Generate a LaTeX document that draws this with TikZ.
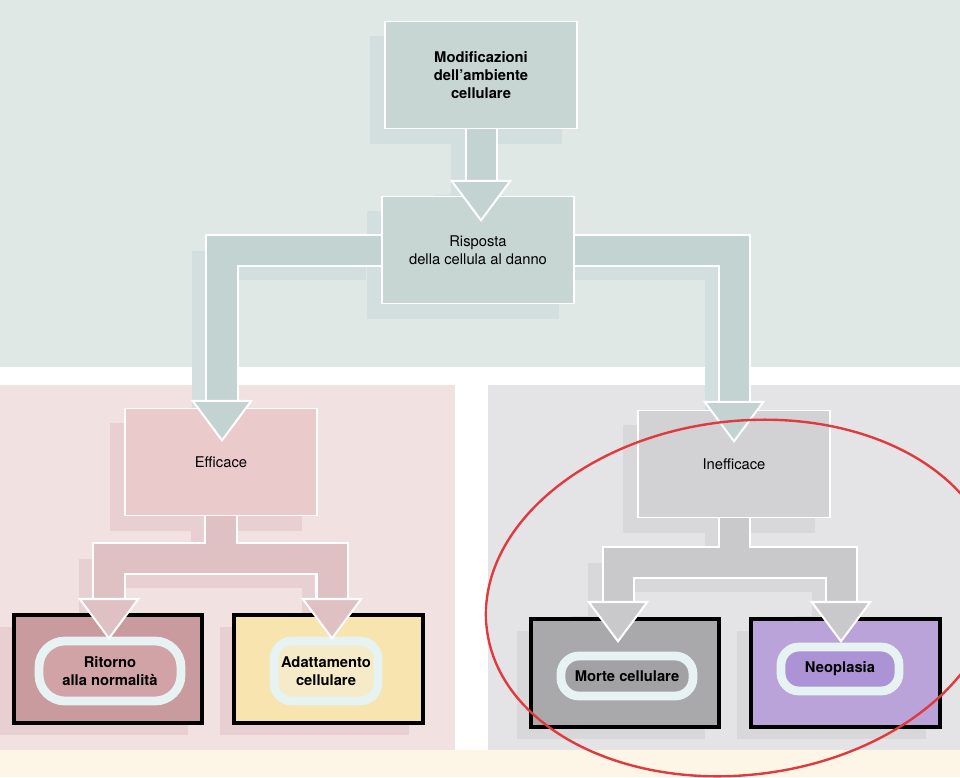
\documentclass[tikz,border=0pt]{standalone}
\usepackage{fontspec}
\setmainfont{TeX Gyre Heros}
\usepackage{tikz}
\usetikzlibrary{positioning,arrows.meta,shadows,backgrounds}
\definecolor{topbg}{HTML}{E0E8E5}
\definecolor{tealBox}{HTML}{C8D6D3}
\definecolor{tealA}{HTML}{C2D3D2}
\definecolor{tealShadow}{HTML}{D3DEDF}
\definecolor{pinkbg}{HTML}{F2E1E1}
\definecolor{pinkBox}{HTML}{EBCACC}
\definecolor{pinkA}{HTML}{DFC0C3}
\definecolor{pinkShadow}{HTML}{E8D0D2}
\definecolor{greybg}{HTML}{E4E4E6}
\definecolor{greyBox}{HTML}{D2D2D4}
\definecolor{greyA}{HTML}{C9C9CB}
\definecolor{greyShadow}{HTML}{D8D8DA}
\definecolor{ritC}{HTML}{C99A9E}
\definecolor{ritIn}{HTML}{D1A3A6}
\definecolor{adaC}{HTML}{F7E4AE}
\definecolor{adaIn}{HTML}{F5EBC8}
\definecolor{morC}{HTML}{A9A9AB}
\definecolor{morIn}{HTML}{A2A2A4}
\definecolor{neoC}{HTML}{B9A3D9}
\definecolor{neoIn}{HTML}{AC93D6}
\definecolor{ringc}{HTML}{E6F3F2}
\definecolor{cream}{HTML}{FDF6E7}
\definecolor{redline}{HTML}{E0393E}

\begin{document}
\begin{tikzpicture}[x=0.025cm, y=-0.025cm,
  box/.style 2 args={draw=white, line width=0.04cm, fill=#1, minimum width=4.8cm, minimum height=2.68cm, align=center, font=\fontsize{10.5}{12.8}\selectfont, drop shadow={shadow xshift=-0.375cm, shadow yshift=-0.375cm, fill=#2, draw=none, opacity=1}},
  leaf/.style 2 args={draw=black, line width=0.1cm, fill=#1, minimum width=4.72cm, minimum height=2.7cm, drop shadow={shadow xshift=-0.35cm, shadow yshift=-0.3cm, fill=#2, draw=none, opacity=1}},
  glow/.style={draw=ringc, line width=0.22cm, rounded corners=0.45cm, fill=#1, align=center, inner sep=0pt, font=\fontsize{10.5}{12.8}\selectfont\bfseries},
  fat/.style={line width=0.725cm, draw=#1, line join=miter},
  drop/.style={fat=#1, transform canvas={shift={(-0.375cm,-0.375cm)}}},
  rim/.style={preaction={draw=white, line width=0.825cm, arrows=-, #1}},
  arrowhead/.style 2 args={arrows={-Triangle[width=1.55cm, length=1.05cm, line width=0.05cm, color=#1, fill=#2]}},
  arrowheads/.style 2 args={arrows={Triangle[width=1.55cm, length=1.05cm, line width=0.05cm, color=#1, fill=#2]-Triangle[width=1.55cm, length=1.05cm, line width=0.05cm, color=#1, fill=#2]}}]
    \useasboundingbox (0,0) rectangle (960,777);
    \clip (0,0) rectangle (960,777);
    \begin{scope}[on background layer]
    \fill[white] (0,0) rectangle (960,777);
    \fill[topbg] (0,0) rectangle (960,367);
    \fill[pinkbg] (0,385) rectangle (455,750);
    \fill[greybg] (488,385) rectangle (960,750);
    \fill[cream] (0,750) rectangle (960,777);
    \end{scope}

    \node[box={tealBox}{tealShadow}, font=\fontsize{10.5}{12.8}\selectfont\bfseries] (mod) at (481,75) {Modificazioni\\dell’ambiente\\cellulare};
    \node[box={tealBox}{tealShadow}] (risp) at (478,250) {Risposta\\della cellula al danno};
    \node[box={pinkBox}{pinkShadow}] (eff) at (221,462) {Efficace};
    \node[box={greyBox}{greyShadow}] (inef) at (734,464) {Inefficace};

    \node[leaf={ritC}{pinkShadow}] (rit) at (108,669) {};
    \node[leaf={adaC}{pinkShadow}, right=0.7cm of rit] (ada) {};
    \node[leaf={morC}{greyShadow}] (mor) at (625,673) {};
    \node[leaf={neoC}{greyShadow}, right=0.7cm of mor] (neo) {};

    \node[glow=ritIn, minimum width=3.55cm, minimum height=1.5cm, rounded corners=0.65cm] (ritL) at (110,671) {Ritorno\\alla normalità};
    \node[glow=adaIn, minimum width=2.6cm, minimum height=1.5cm] (adaL) at (326,671) {Adattamento\\cellulare};
    \node[glow=morIn, minimum width=3.3cm, minimum height=1.0cm] (morL) at (627,676) {Morte cellulare};
    \node[glow=neoIn, minimum width=2.95cm, minimum height=1.1cm] (neoL) at (840,669) {Neoplasia};

    \coordinate (t1) at (481,222);
    \coordinate (t2) at (222,442);
    \coordinate (t3) at (734,443);
    \coordinate (e1) at (221,558);
    \coordinate (t4) at (109,640);
    \coordinate (t5) at (332,640);
    \coordinate (e2) at (734,562);
    \coordinate (t6) at (618,643);
    \coordinate (t7) at (841,643);

    \begin{scope}[on background layer]
    \draw[drop=tealShadow, arrowhead={tealShadow}{tealShadow}] (mod) -- (t1);
    \draw[drop=tealShadow, arrowhead={tealShadow}{tealShadow}] (risp.west) -| (t2);
    \draw[drop=tealShadow, arrowhead={tealShadow}{tealShadow}] (risp.east) -| (t3);
    \draw[drop=pinkShadow, arrowheads={pinkShadow}{pinkShadow}] (t4) |- (e1) -| (t5);
    \draw[drop=pinkShadow] (eff) -- (e1);
    \draw[drop=greyShadow, arrowheads={greyShadow}{greyShadow}] (t6) |- (e2) -| (t7);
    \draw[drop=greyShadow] (inef) -- (e2);
    \end{scope}

    \draw[fat=tealA, rim={shorten >=0.7cm}, arrowhead={white}{tealA}] (mod) -- (t1);
    \draw[fat=tealA, rim={shorten >=0.7cm}, arrowhead={white}{tealA}] (risp.west) -| (t2);
    \draw[fat=tealA, rim={shorten >=0.7cm}, arrowhead={white}{tealA}] (risp.east) -| (t3);
    \draw[fat=pinkA, rim={shorten >=0.7cm, shorten <=0.7cm}, arrowheads={white}{pinkA}] (t4) |- (e1) -| (t5);
    \draw[fat=pinkA, rim={shorten >=0.36cm}] (eff) -- (e1);
    \draw[fat=greyA, rim={shorten >=0.7cm, shorten <=0.7cm}, arrowheads={white}{greyA}] (t6) |- (e2) -| (t7);
    \draw[fat=greyA, rim={shorten >=0.36cm}] (inef) -- (e2);

    \draw[redline, line width=0.06cm, shift={(741,598)}, rotate=7] (0,0) ellipse [x radius=6.4cm, y radius=4.42cm];
\end{tikzpicture}
\end{document}
